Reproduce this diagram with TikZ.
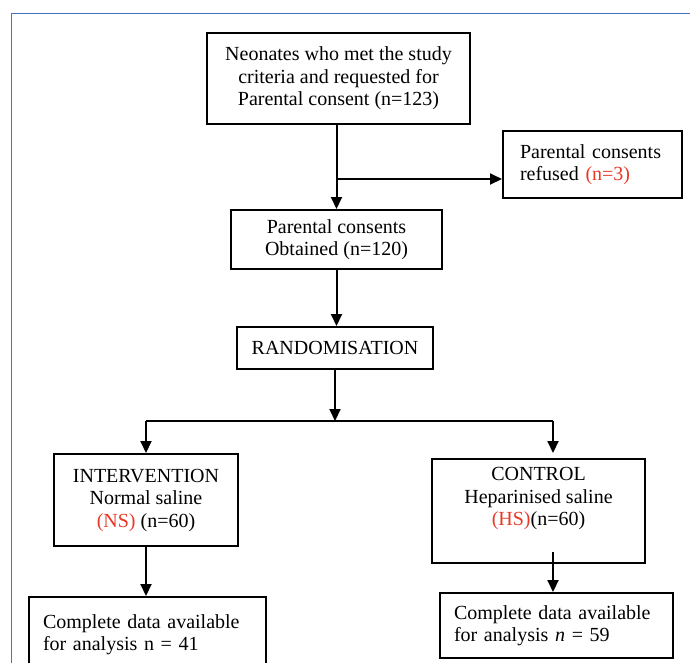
\documentclass[tikz,border=0pt]{standalone}
\usepackage{fontspec}
\setmainfont{Liberation Serif}
\usetikzlibrary{arrows.meta}
\definecolor{nred}{RGB}{232,56,40}
\definecolor{frameblue}{RGB}{68,114,196}
\begin{document}
\begin{tikzpicture}[x=1pt, y=-1pt, >={Triangle[length=12pt,width=11pt]},
  box/.style={draw, line width=2pt, align=center, inner sep=0pt, font=\fontsize{20}{22.5}\selectfont},
  flow/.style={->, line width=2pt}]
\useasboundingbox (0,0) rectangle (690,662);
\draw[frameblue, line width=1.6pt] (11.5,13.5) rectangle (720,720);
\node[box, minimum width=263pt, minimum height=91pt] (neo) at (338.5,78.5) {Neonates who met the study\\criteria and requested for\\Parental consent (n=123)};
\node[box, align=left, text width=145pt, inner xsep=17pt, minimum height=67pt] (ref) at (592.5,164.5) {Parental consents\\refused \textcolor{nred}{(n=3)}};
\node[box, minimum width=211pt, minimum height=59pt] (obt) at (336.5,239.5) {Parental consents\\Obtained (n=120)};
\node[box, minimum width=196pt, minimum height=42pt] (rand) at (335,348) {RANDOMISATION};
\node[box, minimum width=184pt, minimum height=92pt] (inter) at (146,500) {INTERVENTION\\Normal saline\\\textcolor{nred}{(NS)} (n=60)};
\node[box, minimum width=213pt, minimum height=104pt] (ctrl) at (538.5,511) {CONTROL\\Heparinised saline\\\textcolor{nred}{(HS)}(n=60)\\[6pt]};
\node[box, align=left, text width=209pt, inner xsep=14pt, minimum height=75pt] (dataL) at (147.5,634.5) {Complete data available\\for analysis n = 41};
\node[box, align=left, text width=205pt, inner xsep=14pt, minimum height=65pt] (dataR) at (556.5,625.5) {Complete data available\\for analysis \textit{n} = 59};
\coordinate (split) at (336.5,179);
\coordinate (fork) at (335,421);
\coordinate (forkL) at (146,421);
\coordinate (forkR) at (553,421);
\draw[flow] (neo.south -| obt.north) -- (obt.north);
\draw[flow] (split) -- (split -| ref.west);
\draw[flow] (obt.south) -- (obt.south |- rand.north);
\draw[flow] (rand.south -| fork) -- (fork);
\draw[line width=2pt] (forkL) -- (forkR);
\draw[flow] (forkL) -- (inter.north);
\draw[flow, shorten >=5pt] (forkR) -- (forkR |- ctrl.north);
\draw[flow] (inter.south) -- (inter.south |- dataL.north);
\draw[flow] (forkR |- ctrl.south) ++(0,-12) -- (forkR |- dataR.north);
\end{tikzpicture}
\end{document}
